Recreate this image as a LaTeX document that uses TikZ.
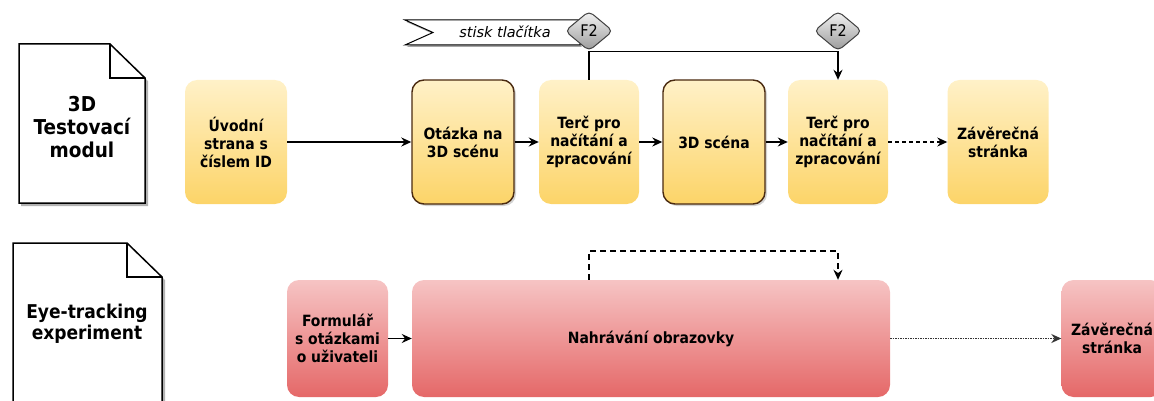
\documentclass[tikz,border=0pt]{standalone}
\usepackage{fontspec}
\setmainfont{DejaVu Sans}
\newfontfamily\condfont{DejaVu Sans Condensed}
\usetikzlibrary{shapes.geometric,arrows.meta,shadows,calc}
\definecolor{yTop}{HTML}{FFF1C8}
\definecolor{yBot}{HTML}{FCD468}
\definecolor{rTop}{HTML}{F6C4C4}
\definecolor{rBot}{HTML}{E56868}
\definecolor{brd}{HTML}{4A2A10}
\definecolor{gTop}{HTML}{F4F4F4}
\definecolor{gBot}{HTML}{999999}
\begin{document}
\begin{tikzpicture}[x=1pt,y=-1pt,
  boxtxt/.style={align=center,text=black,font=\condfont\bfseries\fontsize{15.5}{18}\selectfont,inner sep=2pt},
  ybox/.style={boxtxt,rounded corners=12pt,minimum width=102pt,minimum height=124pt,top color=yTop,bottom color=yBot},
  ybord/.style={ybox,draw=brd,line width=1.4pt,drop shadow={opacity=0.35,shadow xshift=2pt,shadow yshift=-2pt}},
  rbox/.style={boxtxt,rounded corners=12pt,minimum height=117pt,top color=rTop,bottom color=rBot},
  fdiam/.style={diamond,draw=black!75,line width=1pt,top color=gTop,bottom color=gBot,minimum width=48pt,minimum height=40pt,inner sep=0pt,rounded corners=5pt,font=\condfont\fontsize{16}{18}\selectfont},
  doctxt/.style={align=center,font=\condfont\bfseries\fontsize{20.5}{23}\selectfont},
  arr/.style={-{Stealth[length=10pt,width=9pt]},line width=1.5pt},
  docline/.style={line width=1.5pt,line join=miter},
]
\useasboundingbox (0,0) rectangle (1154,401);
\clip (0,0) rectangle (1154,401);

% document shapes
\fill[black!30] (21,47) -- (113,47) -- (148,81) -- (148,206) -- (21,206) -- cycle;
\filldraw[docline,fill=white] (19,44) -- (110,44) -- (145,78) -- (145,203) -- (19,203) -- cycle;
\draw[docline] (110,44) -- (110,78) -- (145,78);
\node[doctxt] (doc1) at (82,127) {3D\\Testovací\\modul};

\fill[black!30] (15,246) -- (130,246) -- (165,280) -- (165,410) -- (15,410) -- cycle;
\filldraw[docline,fill=white] (13,243) -- (127,243) -- (162,277) -- (162,410) -- (13,410) -- cycle;
\draw[docline] (127,243) -- (127,277) -- (162,277);
\node[doctxt,font=\condfont\bfseries\fontsize{19}{21}\selectfont] (doc2) at (87,324) {Eye-tracking\\experiment};

% top row
\node[ybox] (uvod) at (236,142) {Úvodní\\strana s\\číslem ID};
\node[ybord] (otazka) at (463,142) {Otázka na\\3D scénu};
\node[ybox,minimum width=100pt] (terc1) at (589,142) {Terč pro\\načítání a\\zpracování};
\node[ybord] (scena) at (714,142) {3D scéna};
\node[ybox,minimum width=100pt] (terc2) at (838,142) {Terč pro\\načítání a\\zpracování};
\node[ybox,minimum width=101pt] (zav1) at (998,142) {Závěrečná\\stránka};

\draw[arr] (uvod.east) -- (otazka.west);
\draw[arr] (otazka.east) -- (terc1.west);
\draw[arr] (terc1.east) -- (scena.west);
\draw[arr] (scena.east) -- (terc2.west);
\draw[arr,dash pattern=on 4pt off 3pt] (terc2.east) -- (zav1.west);

% event flag and F2 diamonds
\coordinate (f1) at (405,20);
\coordinate (f2) at (580,20);
\coordinate (f3) at (580,45);
\coordinate (f4) at (405,45);
\coordinate (f5) at (433,32.5);
\fill[black!35] ($(f1)+(1.5,2)$) -- ($(f2)+(1.5,2)$) -- ($(f3)+(1.5,2)$) -- ($(f4)+(1.5,2)$) -- ($(f5)+(1.5,2)$) -- cycle;
\filldraw[line width=1pt,fill=white] (f1) -- (f2) -- (f3) -- (f4) -- (f5) -- cycle;
\node[font=\itshape\fontsize{14.5}{16}\selectfont] (stisk) at (505,32) {stisk tlačítka};
\node[fdiam] (d1) at (589,31) {F2};
\node[fdiam] (d2) at (838,31) {F2};

\draw[line width=1.5pt] (terc1.north) -- (d1.south) -- (d2.south);
\draw[arr] (d2.south) -- (terc2.north);

% bottom row
\node[rbox,minimum width=101pt] (form) at (337.5,338.5) {Formulář\\s otázkami\\o uživateli};
\node[rbox,minimum width=478pt] (nahr) at (651,338.5) {Nahrávání obrazovky};
\node[rbox,minimum width=101pt] (zav2) at (1112,338.5) {Závěrečná\\stránka};

\draw[arr] (form.east) -- (nahr.west);
\draw[arr,densely dotted,black!80] (nahr.east) -- (zav2.west);

\coordinate (lp1) at (terc1.center |- 0,251);
\coordinate (lp2) at (terc2.center |- 0,251);
\draw[arr,dash pattern=on 6pt off 4pt] (nahr.north -| terc1.center) -- (lp1) -- (lp2) -- (nahr.north -| terc2.center);
\end{tikzpicture}
\end{document}
